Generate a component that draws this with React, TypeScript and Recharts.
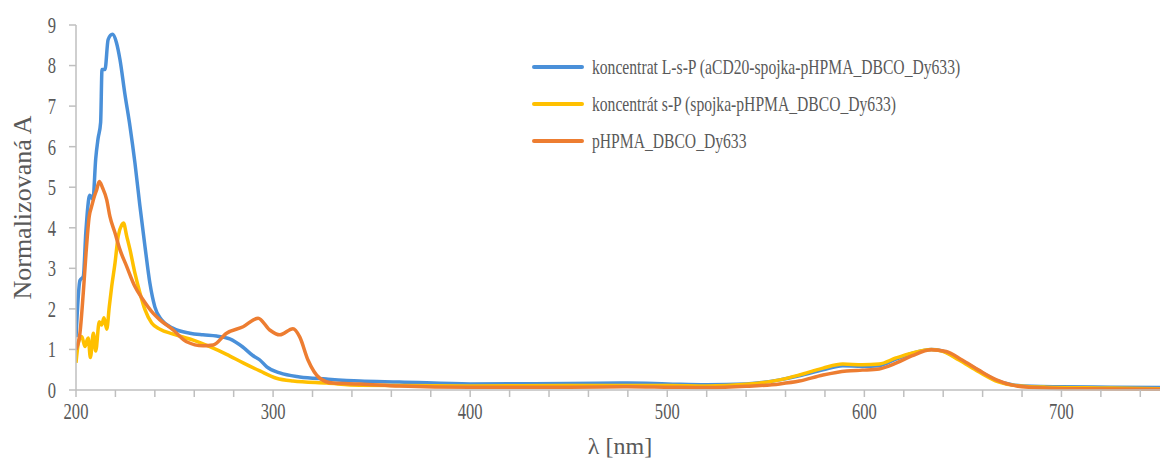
import React from 'react';
import { LineChart, Line, XAxis, YAxis, Label } from 'recharts';

// Wavelength (nm) and normalized absorbance
const blueNm = [200, 202, 203.7, 205, 207, 208.6, 210, 211.2, 212.5, 213.2, 214.7, 216.3, 218.5, 220.5, 222.3, 224.8, 227.4, 229.9, 232.4, 235, 237.5, 240, 243.4, 249.3, 257.8, 264.4, 271.3, 278, 284.6, 289.7, 293.3, 296.8, 303.4, 313.5, 327, 344, 364, 400, 450, 480, 500, 520, 540, 557, 567, 579, 589, 599, 607.5, 616, 624, 634, 639, 648, 658, 667, 675, 685, 700, 725, 750];
const blueA = [1.3, 2.7, 2.8, 3.9, 4.8, 4.7, 5.7, 6.2, 6.6, 7.9, 7.9, 8.64, 8.77, 8.57, 8.15, 7.3, 6.5, 5.6, 4.55, 3.54, 2.63, 2.05, 1.73, 1.52, 1.4, 1.36, 1.33, 1.26, 1.06, 0.85, 0.74, 0.57, 0.42, 0.32, 0.27, 0.22, 0.2, 0.15, 0.16, 0.17, 0.15, 0.13, 0.15, 0.25, 0.35, 0.5, 0.6, 0.58, 0.6, 0.76, 0.9, 1.0, 0.97, 0.76, 0.48, 0.24, 0.13, 0.09, 0.08, 0.07, 0.06];

const yellowNm = [200, 201.2, 202, 202.9, 204.6, 205.6, 206.2, 207.3, 208.8, 210, 211.8, 213, 214.2, 215.6, 216.9, 218.1, 219.8, 221.4, 223.2, 224.1, 225.7, 227.4, 229.9, 232.4, 235, 238.4, 242.6, 249.3, 259.5, 267.9, 276.4, 284.8, 293.3, 301.7, 310.1, 327.1, 344, 400, 450, 500, 520, 540, 557, 567, 579, 589, 599, 607.5, 616, 624, 634, 639.4, 648, 658, 668, 678.5, 692, 725, 750];
const yellowA = [0.67, 1.16, 1.28, 1.32, 1.07, 1.23, 1.28, 0.8, 1.4, 0.96, 1.68, 1.6, 1.78, 1.5, 2.06, 2.55, 3.13, 3.79, 4.07, 4.12, 3.8, 3.46, 2.88, 2.4, 1.98, 1.65, 1.5, 1.38, 1.23, 1.07, 0.88, 0.67, 0.47, 0.29, 0.22, 0.17, 0.12, 0.1, 0.11, 0.11, 0.1, 0.14, 0.25, 0.37, 0.54, 0.64, 0.62, 0.64, 0.79, 0.91, 1.0, 0.96, 0.74, 0.45, 0.2, 0.1, 0.07, 0.05, 0.03];

const orangeNm = [200, 202, 203.7, 205.1, 206.7, 207.9, 209.3, 210.5, 211.8, 213.5, 215.6, 217.2, 219.8, 222.3, 225.7, 229.9, 234.1, 239.2, 242.6, 249.3, 256.1, 264.5, 269.6, 276.4, 284.8, 292.4, 298.3, 303.4, 310.1, 313.5, 317.7, 323.7, 330.4, 344, 364, 400, 450, 480, 500, 520, 540, 557, 567, 579, 591, 599, 607.5, 616, 624, 634, 641.5, 649.6, 658, 667, 675, 683.5, 709, 750];
const orangeA = [1.0, 1.4, 2.4, 3.38, 4.28, 4.52, 4.77, 4.94, 5.14, 4.98, 4.69, 4.28, 3.87, 3.46, 3.05, 2.55, 2.22, 1.89, 1.73, 1.48, 1.19, 1.09, 1.11, 1.4, 1.56, 1.77, 1.48, 1.36, 1.51, 1.31, 0.74, 0.29, 0.17, 0.15, 0.1, 0.07, 0.07, 0.08, 0.07, 0.06, 0.09, 0.15, 0.22, 0.37, 0.47, 0.49, 0.52, 0.66, 0.84, 0.99, 0.95, 0.74, 0.49, 0.25, 0.12, 0.07, 0.03, 0.02];

const seriesNames = [
  'koncentrat L-s-P (aCD20-spojka-pHPMA_DBCO_Dy633)',
  'koncentrát s-P (spojka-pHPMA_DBCO_Dy633)',
  'pHPMA_DBCO_Dy633',
];
const seriesColors = ['#4A90D9', '#FFC000', '#ED7D31'];

const xTicks = [200, 220, 240, 260, 280, 300, 320, 340, 360, 380, 400, 420, 440, 460, 480, 500, 520, 540, 560, 580, 600, 620, 640, 660, 680, 700, 720, 740];
const yTicks = [0, 1, 2, 3, 4, 5, 6, 7, 8, 9];

const toPoints = (nm: number[], a: number[]) => nm.map((x, i) => ({ x, y: a[i] }));
const blueData = toPoints(blueNm, blueA);
const yellowData = toPoints(yellowNm, yellowA);
const orangeData = toPoints(orangeNm, orangeA);

const FONT = '"Liberation Serif", "Times New Roman", serif';
const TEXT = '#595959';
const AXIS = '#BFBFBF';
const SQ = 0.72;

const XTick = (p: any) => {
  const v = p.payload.value;
  if (v % 100 !== 0) return null;
  return (
    <g transform={`translate(${p.x},${p.y})`}>
      <text transform={`scale(${SQ},1)`} x={0} y={0} dy="0.72em" textAnchor="middle" fill={TEXT} fontFamily={FONT} fontSize={23}>
        {v}
      </text>
    </g>
  );
};

const YTick = (p: any) => (
  <g transform={`translate(${p.x},${p.y})`}>
    <text transform={`scale(${SQ},1)`} x={0} y={0} dy="0.34em" textAnchor="end" fill={TEXT} fontFamily={FONT} fontSize={23}>
      {p.payload.value}
    </text>
  </g>
);

const LegendBox = () => (
  <div style={{ position: 'absolute', left: 531, top: 48, fontFamily: FONT, fontSize: 22, color: TEXT }}>
    {seriesNames.map((n, i) => (
      <div key={n} style={{ display: 'flex', alignItems: 'center', height: 37 }}>
        <svg width={54} height={8} style={{ marginRight: 7, flex: 'none' }}>
          <line x1={3} y1={4} x2={51} y2={4} stroke={seriesColors[i]} strokeWidth={4} strokeLinecap="round" />
        </svg>
        <span style={{ whiteSpace: 'nowrap', display: 'inline-block', transform: `scaleX(0.71)`, transformOrigin: 'left center' }}>{n}</span>
      </div>
    ))}
  </div>
);

export default function App() {
  return (
    <div style={{ position: 'absolute', left: 0, top: 0, width: 1160, height: 459, background: '#fff' }}>
      <LineChart width={1160} height={459} margin={{ top: 25, right: 0, bottom: 0, left: 0 }}>
        <XAxis
          type="number"
          dataKey="x"
          domain={[200, 750]}
          ticks={xTicks}
          interval={0}
          allowDataOverflow
          height={69}
          stroke={AXIS}
          strokeWidth={1.5}
          tickSize={7}
          tickMargin={5}
          tick={<XTick />}
        >
          <Label
            content={(p: any) => {
              const vb = p.viewBox;
              return (
                <text x={620} y={vb.y + vb.height - 5} textAnchor="middle" fill={TEXT} fontFamily={FONT} fontSize={24}>
                  λ [nm]
                </text>
              );
            }}
          />
        </XAxis>
        <YAxis
          type="number"
          domain={[0, 9]}
          ticks={yTicks}
          interval={0}
          width={76}
          stroke={AXIS}
          strokeWidth={1.5}
          tickSize={7}
          tickMargin={13}
          tick={<YTick />}
        >
          <Label
            content={(p: any) => {
              const vb = p.viewBox;
              const cy = vb.y + vb.height / 2;
              return (
                <text
                  x={22}
                  y={cy}
                  transform={`rotate(-90, 22, ${cy})`}
                  textAnchor="middle"
                  dominantBaseline="central"
                  fill={TEXT}
                  fontFamily={FONT}
                  fontSize={26}
                >
                  Normalizovaná A
                </text>
              );
            }}
          />
        </YAxis>
        <Line data={blueData} dataKey="y" name={seriesNames[0]} type="monotone" stroke={seriesColors[0]} strokeWidth={3.5} dot={false} isAnimationActive={false} />
        <Line data={yellowData} dataKey="y" name={seriesNames[1]} type="monotone" stroke={seriesColors[1]} strokeWidth={3.5} dot={false} isAnimationActive={false} />
        <Line data={orangeData} dataKey="y" name={seriesNames[2]} type="monotone" stroke={seriesColors[2]} strokeWidth={3.5} dot={false} isAnimationActive={false} />
      </LineChart>
      <LegendBox />
    </div>
  );
}
